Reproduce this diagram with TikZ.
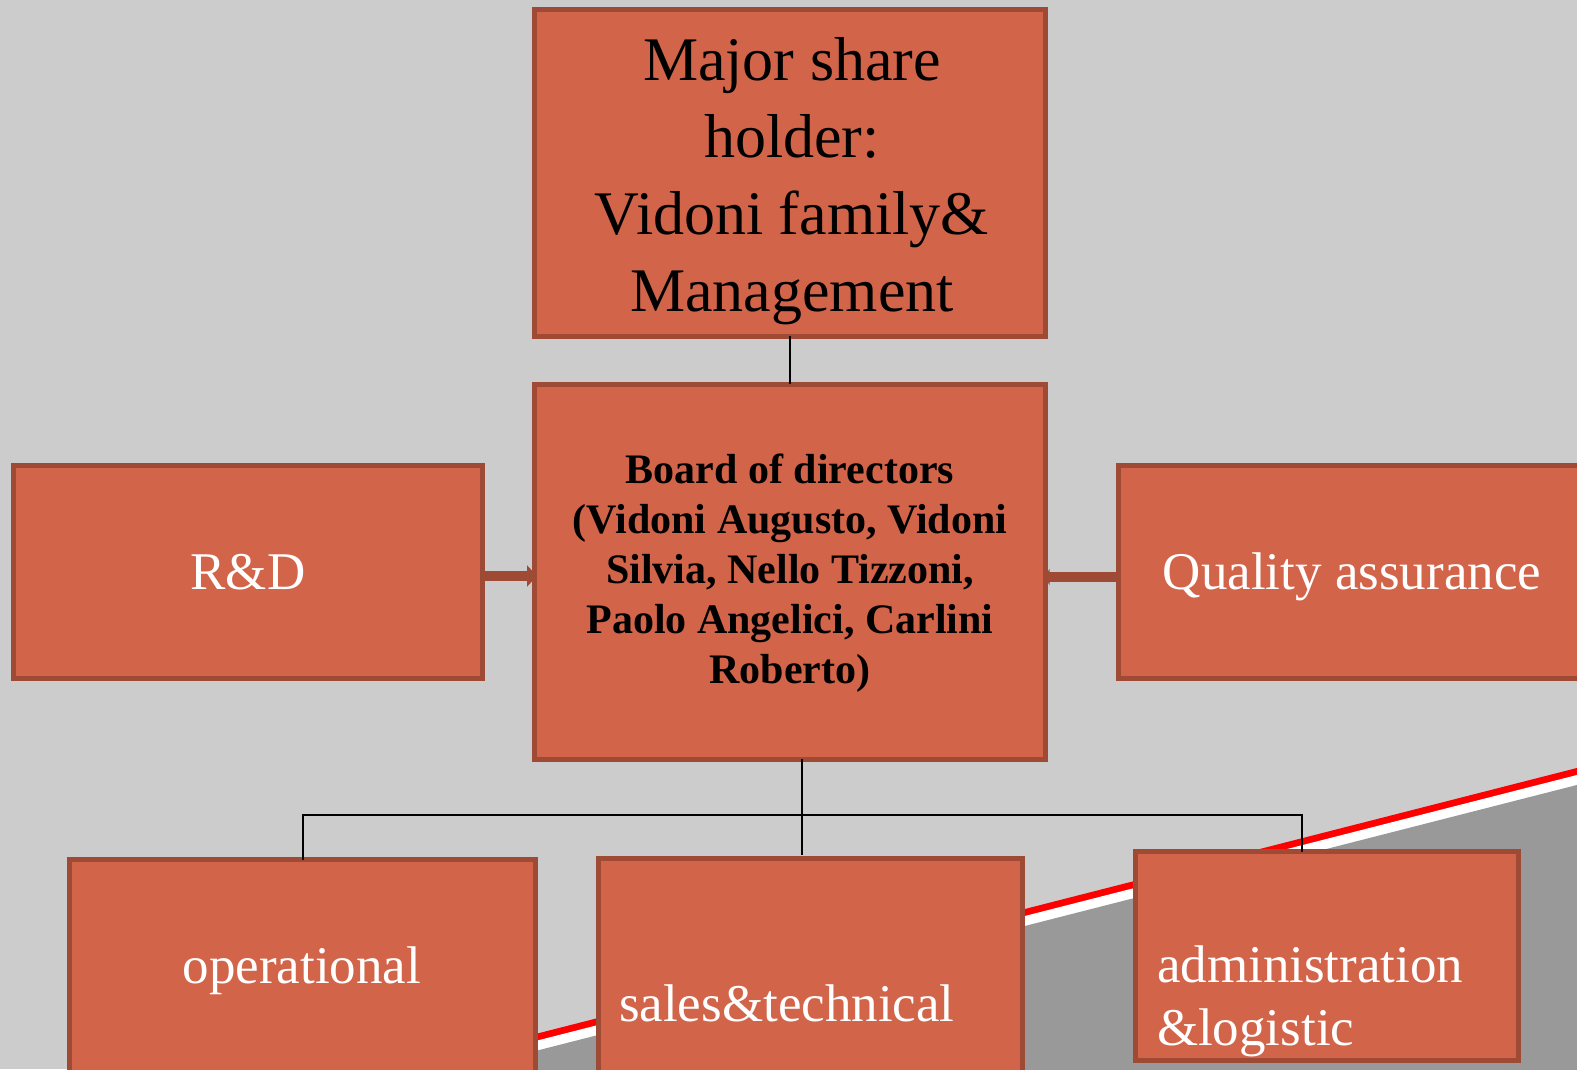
\documentclass[tikz,border=0pt]{standalone}
\usepackage{fontspec}
\setmainfont{Liberation Serif}
\usetikzlibrary{arrows.meta,calc}
\definecolor{boxfill}{HTML}{D2644A}
\definecolor{boxline}{HTML}{9E4A35}
\definecolor{bglight}{HTML}{CCCCCC}
\definecolor{bgdark}{HTML}{999999}
\definecolor{stripe}{HTML}{FF0000}
\begin{document}
\begin{tikzpicture}[x=1pt,y=1pt,
  box/.style={draw=boxline, fill=boxfill, line width=5pt, inner sep=0pt, outer sep=0pt},
  conn/.style={draw=black, line width=2pt},
  feed/.style={draw=boxline, line width=10pt},
  txt/.style={inner sep=0pt, outer sep=0pt, anchor=base},
  wtxt/.style={txt, text=white, font=\fontsize{53}{63}\selectfont}]
\useasboundingbox (0,0) rectangle (1577,1069);
\clip (0,0) rectangle (1577,1069);
% background
\fill[bglight] (0,0) rectangle (1577,1069);
\fill[stripe] (380,-4.7) -- (1600,306.9) -- (1600,-40) -- (380,-40) -- cycle;
\fill[white] (380,-11.7) -- (1600,299.9) -- (1600,-40) -- (380,-40) -- cycle;
\fill[bgdark] (380,-21.7) -- (1600,289.9) -- (1600,-40) -- (380,-40) -- cycle;
% boxes
\node[box, minimum width=511pt, minimum height=327pt] (top) at (790,896) {};
\node[box, minimum width=511pt, minimum height=375pt] (board) at (790,497) {};
\node[box, minimum width=469pt, minimum height=213pt] (rd) at (248,497) {};
\node[box, minimum width=499pt, minimum height=213pt] (qa) at (1368,497) {};
\node[box, minimum width=466pt, minimum height=238pt] (op) at (302.5,90.5) {};
\node[box, minimum width=424pt, minimum height=239pt] (sales) at (810.5,91) {};
\node[box, minimum width=383pt, minimum height=209pt] (admin) at (1327,113) {};
% connectors
\coordinate (busR) at (1302,254);
\draw[conn] (top.south) -- (board.north);
\draw[conn] ([xshift=12pt]board.south) -- ([xshift=-8.5pt,yshift=4pt]sales.north);
\draw[conn] (op.north) |- (busR) -- ([xshift=-25pt]admin.north);
\draw[feed, -{Triangle[length=10pt,width=21pt]}] ([yshift=-4pt]rd.east) -- ([xshift=2.5pt,yshift=-4pt]board.west);
\draw[feed, -{Triangle[length=5pt,width=16pt]}] ([yshift=-5pt]qa.west) -- ([xshift=-1pt,yshift=-5pt]board.east);
% texts
\node[txt, font=\fontsize{62}{77}\selectfont] (toptxt) at (792,988)
  {\begin{tabular}[t]{@{}c@{}}Major share\\holder:\\Vidoni family\&\\Management\end{tabular}};
\node[txt, font=\fontsize{42}{50}\selectfont\bfseries] (boardtxt) at (790,585)
  {\begin{tabular}[t]{@{}c@{}}Board of directors\\(Vidoni Augusto, Vidoni\\Silvia, Nello Tizzoni,\\Paolo Angelici, Carlini\\Roberto)\end{tabular}};
\node[wtxt] (rdtxt) at (248,479) {R\&D};
\node[wtxt] (qatxt) at (1352,479) {Quality assurance};
\node[wtxt] (optxt) at (302,86) {operational};
\node[wtxt, anchor=base west] (salestxt) at (619,48) {sales\&technical};
\node[wtxt, anchor=base west] (admintxt) at (1157,87)
  {\begin{tabular}[t]{@{}l@{}}administration\\\&logistic\end{tabular}};
\end{tikzpicture}
\end{document}
